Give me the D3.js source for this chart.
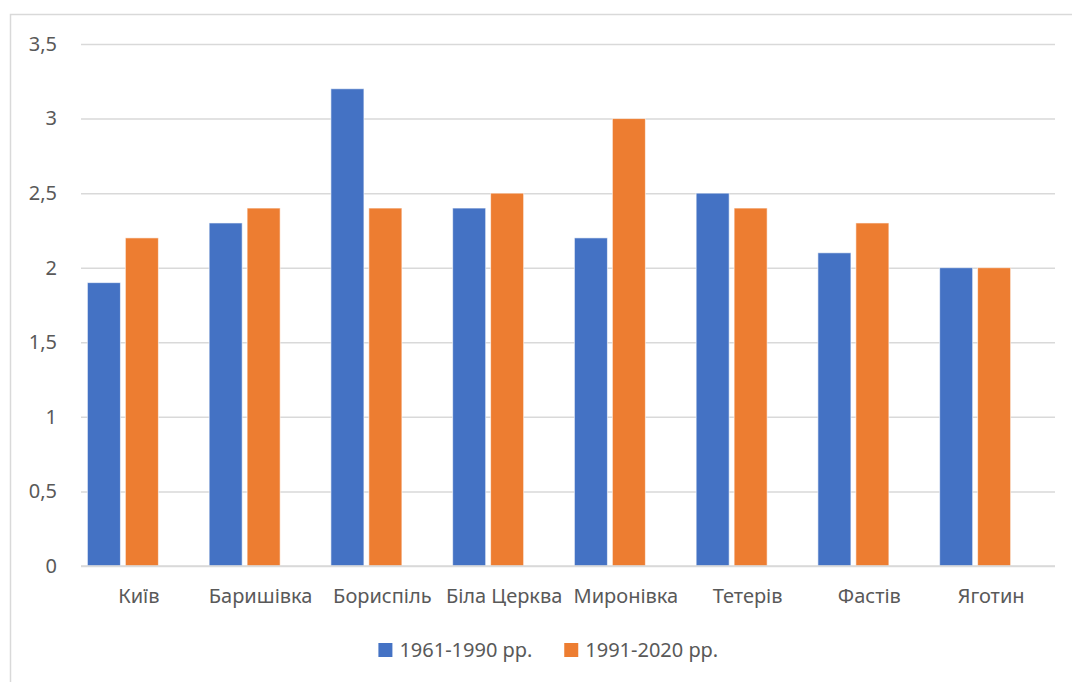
<!DOCTYPE html>
<html>
<head>
<meta charset="utf-8">
<script src="https://cdn.jsdelivr.net/npm/d3@7"></script>
<style>
  html, body { margin: 0; padding: 0; background: #fff; }
  svg { display: block; font-family: "Noto Sans", "Open Sans", sans-serif; }
</style>
</head>
<body>
<svg id="chart" width="1072" height="682"></svg>
<script>
// Stations and values for the two climate normals
const stations = ["Київ", "Баришівка", "Бориспіль", "Біла Церква", "Миронівка", "Тетерів", "Фастів", "Яготин"];
const seriesNames = ["1961-1990 рр.", "1991-2020 рр."];
const values1961 = [1.9, 2.3, 3.2, 2.4, 2.2, 2.5, 2.1, 2.0];
const values1991 = [2.2, 2.4, 2.4, 2.5, 3.0, 2.4, 2.3, 2.0];
const yTicks = [0, 0.5, 1, 1.5, 2, 2.5, 3, 3.5];
const colors = ["#4472C4", "#ED7D31"];

const svg = d3.select("#chart");
const W = 1072, H = 682;
const frame = { left: 10.5, top: 14.5, right: 1086 };
const plot = { left: 81, right: 1055, top: 44, bottom: 566 };
const textColor = "#595959";
const fontSize = 20;

// Chart frame
svg.append("rect")
  .attr("x", frame.left).attr("y", frame.top)
  .attr("width", frame.right - frame.left).attr("height", H + 20)
  .attr("fill", "#fff").attr("stroke", "#D9D9D9").attr("stroke-width", 1.5);

const y = d3.scaleLinear().domain([0, 3.5]).range([plot.bottom, plot.top]);

const x0 = d3.scaleBand().domain(stations)
  .range([plot.left, plot.right])
  .paddingInner(0.105).paddingOuter(0.0525);

// Grouping reserves three slots per category; the last one stays empty
const slots = [...seriesNames, "_"];
const x1 = d3.scaleBand().domain(slots)
  .range([0, x0.bandwidth()])
  .paddingInner(0.13).paddingOuter(0);

// Gridlines and y labels
const yAxis = d3.axisLeft(y).tickValues(yTicks)
  .tickSize(-(plot.right - plot.left)).tickPadding(24)
  .tickFormat(d => String(d).replace(".", ","));
const gy = svg.append("g").attr("transform", `translate(${plot.left},0)`).call(yAxis);
gy.select(".domain").remove();
gy.selectAll(".tick line").attr("stroke", "#D9D9D9").attr("stroke-width", 1.5);
gy.selectAll(".tick text").attr("fill", textColor).attr("font-size", fontSize)
  .attr("font-family", "Noto Sans, Open Sans, sans-serif");

// Bars
const rows = stations.map((s, i) => ({ station: s, vals: [values1961[i], values1991[i]] }));
const groups = svg.append("g").selectAll("g").data(rows).join("g")
  .attr("transform", d => `translate(${x0(d.station)},0)`);
groups.selectAll("rect")
  .data(d => d.vals.map((v, k) => ({ key: seriesNames[k], v, k })))
  .join("rect")
  .attr("x", d => x1(d.key))
  .attr("y", d => y(d.v))
  .attr("width", x1.bandwidth())
  .attr("height", d => y(0) - y(d.v))
  .attr("fill", d => colors[d.k])
  .attr("stroke", "#fff").attr("stroke-opacity", 0.6).attr("stroke-width", 1);

// Category labels, centered on each category
const xAxis = d3.axisBottom(x0).tickSize(0).tickPadding(23);
const gx = svg.append("g").attr("transform", `translate(-3,${plot.bottom})`).call(xAxis);
gx.select(".domain").remove();
gx.selectAll(".tick text").attr("fill", textColor).attr("font-size", fontSize)
  .attr("font-family", "Noto Sans, Open Sans, sans-serif");

// Baseline
svg.append("line")
  .attr("x1", plot.left).attr("x2", plot.right)
  .attr("y1", y(0)).attr("y2", y(0))
  .attr("stroke", "#D9D9D9").attr("stroke-width", 1.5);

// Legend, centered in the chart frame
const legend = svg.append("g");
const legendItems = legend.selectAll("g").data(seriesNames).join("g");
legendItems.append("rect")
  .attr("width", 14).attr("height", 14).attr("y", -7)
  .attr("fill", (d, i) => colors[i]);
legendItems.append("text")
  .attr("x", 21).attr("dy", "0.35em")
  .attr("fill", textColor).attr("font-size", fontSize)
  .text(d => d);
let lx = 0;
const gap = 32;
legendItems.each(function () {
  const w = this.getBBox().width;
  d3.select(this).attr("transform", `translate(${lx},0)`);
  lx += w + gap;
});
const totalW = lx - gap;
legend.attr("transform", `translate(${(frame.left + frame.right) / 2 - totalW / 2},650)`);
</script>
</body>
</html>
